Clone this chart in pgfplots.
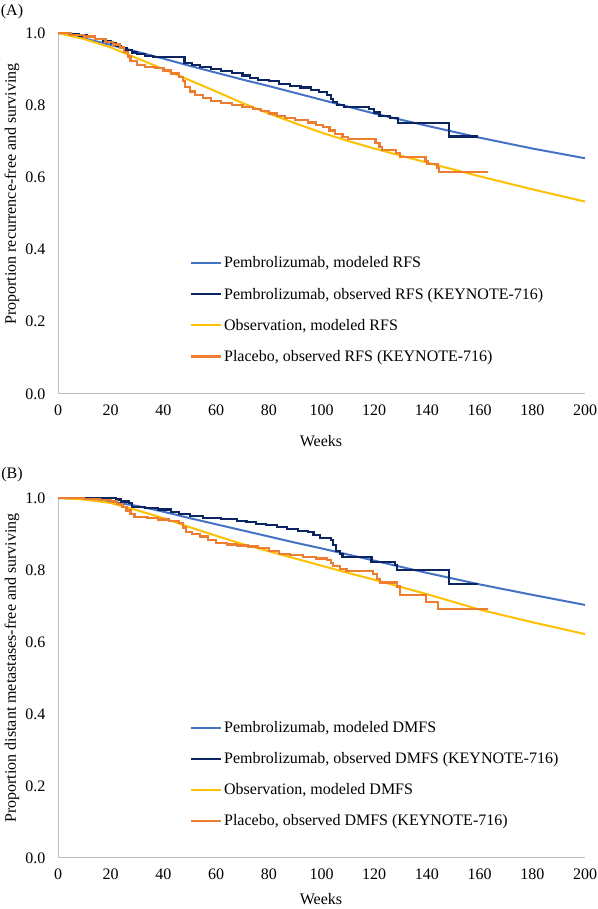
\documentclass[border=0pt]{standalone}
\usepackage{fontspec}
\setmainfont{Liberation Serif}
\usepackage{pgfplots}
\pgfplotsset{compat=1.18}
\definecolor{cmod}{HTML}{4472C4}
\definecolor{cobs}{HTML}{0B2462}
\definecolor{cyel}{HTML}{FFC000}
\definecolor{cora}{HTML}{ED7D31}
\definecolor{cax}{HTML}{BFBFBF}
\newcommand\f{\fontsize{16}{19}\selectfont}
\pgfplotsset{
  kmstyle/.style={
    scale only axis, width=527pt,
    xmin=0, xmax=200, ymin=0, ymax=1,
    axis lines=left, axis line style={cax, line width=1pt, -},
    xtick={0,20,...,200}, ytick={0,0.2,...,1.0},
    major tick length=0pt,
    tick label style={font=\f},
    xticklabel style={yshift=-7pt},
    yticklabel style={xshift=-9pt, /pgf/number format/.cd, fixed, fixed zerofill, precision=1},
    /pgf/number format/assume math mode=true,
    clip=false,
    legend cell align=left,
    legend style={draw=none, fill=none, font=\f, at={(0.25,0.386)}, anchor=north west,
      row sep=14.5pt, inner sep=0pt, nodes={inner sep=2pt}},
    legend image code/.code={\draw[#1] (0pt,0pt) -- (30pt,0pt);},
  },
  modl/.style={line width=2pt},
  obsl/.style={line width=2.2pt, const plot},
}
\begin{document}
\begin{tikzpicture}[x=1pt,y=1pt]
\useasboundingbox (0,0) rectangle (597,909);
% ---------------- Panel A ----------------
\begin{axis}[kmstyle, height=361pt, at={(58pt,515pt)}, anchor=south west]
\addplot[modl, cmod] coordinates {(0,1) (10,0.985) (20,0.967) (30,0.948) (40,0.929) (50,0.909) (60,0.89) (70,0.871) (80,0.853) (90,0.834) (100,0.815) (110,0.796) (120,0.777) (140,0.743) (160,0.71) (180,0.68) (200,0.653)};
\addlegendentry{Pembrolizumab, modeled RFS}
\addplot[obsl, cobs] coordinates {(0,1) (4,0.997) (8,0.993) (11,0.988) (14,0.983) (17,0.978) (20,0.972) (22,0.965) (24,0.958) (26,0.952) (28,0.946) (30,0.941) (33,0.936) (36,0.933) (48,0.917) (51,0.912) (54,0.906) (58,0.9) (62,0.895) (66,0.889) (70,0.882) (73,0.876) (76,0.87) (80,0.866) (84,0.859) (88,0.853) (92,0.849) (96,0.843) (99,0.837) (102,0.828) (103.5,0.818) (104.5,0.808) (106,0.8) (108.5,0.794) (118,0.789) (120,0.78) (122,0.77) (126,0.764) (129,0.75) (148.5,0.713) (159.5,0.713)};
\addlegendentry{Pembrolizumab, observed RFS (KEYNOTE-716)}
\addplot[modl, cyel] coordinates {(0,1) (10,0.983) (20,0.96) (30,0.93) (40,0.9) (50,0.869) (60,0.838) (70,0.806) (80,0.777) (90,0.75) (100,0.724) (110,0.701) (120,0.68) (140,0.641) (160,0.603) (180,0.567) (200,0.533)};
\addlegendentry{Observation, modeled RFS}
\addplot[obsl, cora] coordinates {(0,1) (5,0.995) (10,0.99) (14,0.983) (18,0.975) (21,0.968) (23.5,0.96) (25,0.948) (26.5,0.935) (27.5,0.922) (30,0.912) (33,0.906) (37,0.902) (40,0.896) (43,0.888) (46,0.879) (47.3,0.866) (48.3,0.85) (50,0.838) (52,0.828) (55,0.82) (58,0.812) (62,0.806) (66,0.8) (70,0.795) (74,0.79) (77,0.783) (80,0.777) (83,0.77) (86,0.764) (90,0.76) (95,0.752) (98,0.746) (100.5,0.74) (103,0.73) (105,0.72) (108,0.712) (110,0.707) (120.5,0.695) (122,0.684) (123,0.676) (128.3,0.667) (129.8,0.657) (139.5,0.645) (140.2,0.637) (144,0.627) (144.5,0.616) (163.3,0.616)};
\addlegendentry{Placebo, observed RFS (KEYNOTE-716)}
\end{axis}
% ---------------- Panel B ----------------
\begin{axis}[kmstyle, height=360pt, at={(58pt,51pt)}, anchor=south west]
\addplot[modl, cmod] coordinates {(0,1) (10,0.997) (20,0.99) (30,0.978) (40,0.962) (50,0.944) (60,0.927) (70,0.91) (80,0.893) (90,0.876) (100,0.86) (110,0.843) (120,0.826) (140,0.792) (160,0.76) (180,0.731) (200,0.703)};
\addlegendentry{Pembrolizumab, modeled DMFS}
\addplot[obsl, cobs] coordinates {(0,1) (22,0.996) (24,0.99) (27,0.985) (28,0.976) (33,0.973) (38,0.968) (43,0.962) (46,0.955) (50,0.949) (55,0.944) (62,0.941) (68,0.937) (71.5,0.933) (75,0.928) (79,0.924) (83,0.92) (87,0.914) (91,0.909) (95,0.905) (97,0.898) (99.5,0.889) (103.5,0.883) (104.5,0.87) (105.5,0.853) (107,0.845) (108,0.836) (119,0.822) (128,0.813) (128.5,0.799) (148.5,0.762) (159.5,0.762)};
\addlegendentry{Pembrolizumab, observed DMFS (KEYNOTE-716)}
\addplot[modl, cyel] coordinates {(0,1) (10,0.996) (20,0.986) (30,0.966) (40,0.944) (50,0.919) (60,0.895) (70,0.872) (80,0.852) (90,0.832) (100,0.812) (110,0.792) (120,0.773) (140,0.733) (160,0.69) (180,0.655) (200,0.622)};
\addlegendentry{Observation, modeled DMFS}
\addplot[obsl, cora] coordinates {(0,1) (10,0.998) (16,0.995) (20,0.99) (22.5,0.984) (24.5,0.976) (26,0.965) (27.5,0.955) (29,0.947) (34,0.944) (38,0.94) (42,0.937) (46,0.931) (47.4,0.918) (48.5,0.905) (51,0.899) (54,0.893) (57,0.884) (60,0.876) (64,0.871) (68,0.868) (72,0.865) (76,0.861) (80,0.853) (84,0.845) (88,0.842) (93,0.837) (98,0.832) (102,0.828) (103.5,0.82) (104.5,0.81) (107,0.803) (109.5,0.797) (119.5,0.788) (121,0.776) (122.3,0.765) (128.5,0.754) (129.8,0.731) (139.7,0.712) (144.2,0.692) (163.3,0.692)};
\addlegendentry{Placebo, observed DMFS (KEYNOTE-716)}
\end{axis}
% ---------------- labels ----------------
\node[font=\f] at (12,897) {(A)};
\node[font=\f] at (12,434) {(B)};
\node[font=\f, rotate=90] at (12,715) {Proportion recurrence-free and surviving};
\node[font=\f, rotate=90] at (12,241) {Proportion distant metastases-free and surviving};
\node[font=\f] at (321,468) {Weeks};
\node[font=\f] at (321,10) {Weeks};
\end{tikzpicture}
\end{document}
